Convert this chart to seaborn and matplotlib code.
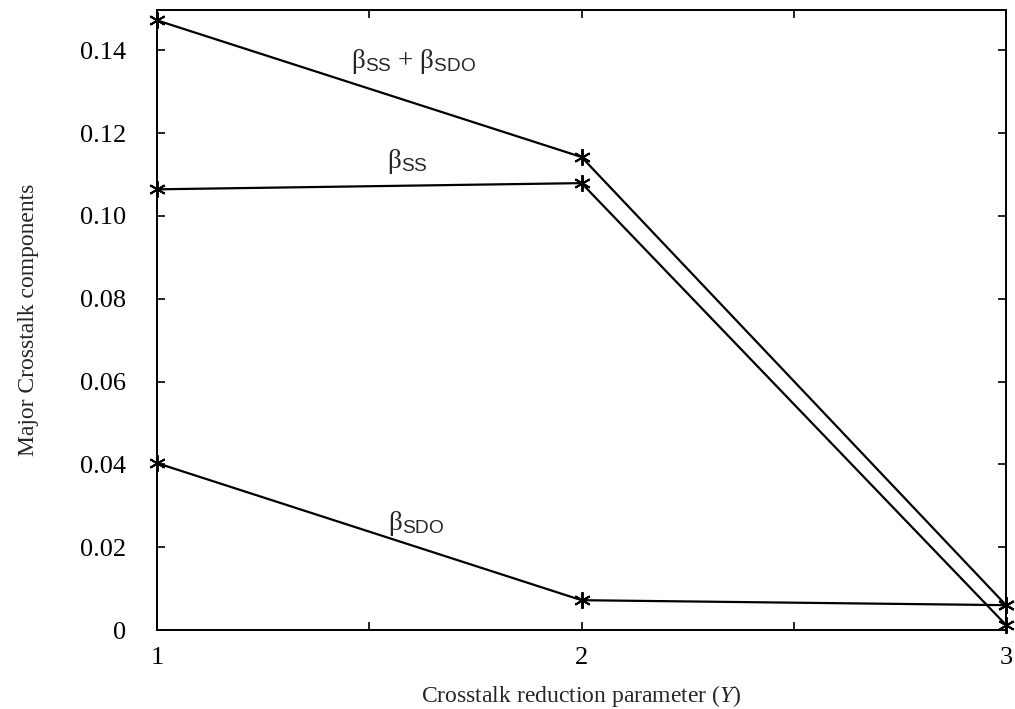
import matplotlib
matplotlib.use("Agg")
import matplotlib.pyplot as plt
import seaborn as sns
import pandas as pd

x_vals = [1, 2, 3]
beta_ss_sdo = [0.1472, 0.1142, 0.0060]
beta_ss = [0.1064, 0.1079, 0.0012]
beta_sdo = [0.0403, 0.0072, 0.0060]
x_ticks = [1, 2, 3]
y_ticks = [0, 0.02, 0.04, 0.06, 0.08, 0.10, 0.12, 0.14]
y_ticklabels = ["0", "0.02", "0.04", "0.06", "0.08", "0.10", "0.12", "0.14"]

sns.set_theme(style="ticks")
plt.rcParams["font.family"] = ["Liberation Serif", "DejaVu Serif"]
plt.rcParams["mathtext.fontset"] = "custom"
plt.rcParams["mathtext.rm"] = "Liberation Sans"
plt.rcParams["mathtext.it"] = "Liberation Serif:italic"

fig = plt.figure(figsize=(10.15, 7.09), dpi=100)
ax = fig.add_axes([0.1547, 0.1114, 0.8365, 0.8745])

df = pd.concat([
    pd.DataFrame({"x": x_vals, "y": beta_ss_sdo, "s": "ss_sdo"}),
    pd.DataFrame({"x": x_vals, "y": beta_ss, "s": "ss"}),
    pd.DataFrame({"x": x_vals, "y": beta_sdo, "s": "sdo"}),
])
for name, g in df.groupby("s"):
    sns.lineplot(data=g, x="x", y="y", ax=ax, color="black", lw=1.6,
                 marker=(6, 2, 0), markersize=12, markeredgewidth=1.4,
                 markeredgecolor="black", legend=False, clip_on=False)

ax.set_xlim(1, 3)
ax.set_ylim(0, 0.1497)
ax.set_xticks([1, 1.5, 2, 2.5, 3])
ax.set_xticklabels(["1", "", "2", "", "3"])
ax.set_yticks(y_ticks)
ax.set_yticklabels(y_ticklabels)
ax.tick_params(direction="in", length=6, width=1.2, top=True, right=True,
               labelsize=19, colors="black")
ax.tick_params(axis="y", pad=22)
ax.tick_params(axis="x", pad=12)
for sp in ax.spines.values():
    sp.set_linewidth(1.4)
    sp.set_color("black")

ax.set_xlabel("Crosstalk reduction parameter ($Y$)", fontsize=17, labelpad=10)
ax.set_ylabel("Major Crosstalk components", fontsize=17, labelpad=30)

ax.text(1.605, 0.1372, "β$_{\\mathrm{SS}}$ + β$_{\\mathrm{SDO}}$", fontsize=19.5, ha="center", va="center")
ax.text(1.59, 0.1130, "β$_{\\mathrm{SS}}$", fontsize=19.5, ha="center", va="center")
ax.text(1.61, 0.0258, "β$_{\\mathrm{SDO}}$", fontsize=19.5, ha="center", va="center")

fig.savefig("out.png", dpi=100)
